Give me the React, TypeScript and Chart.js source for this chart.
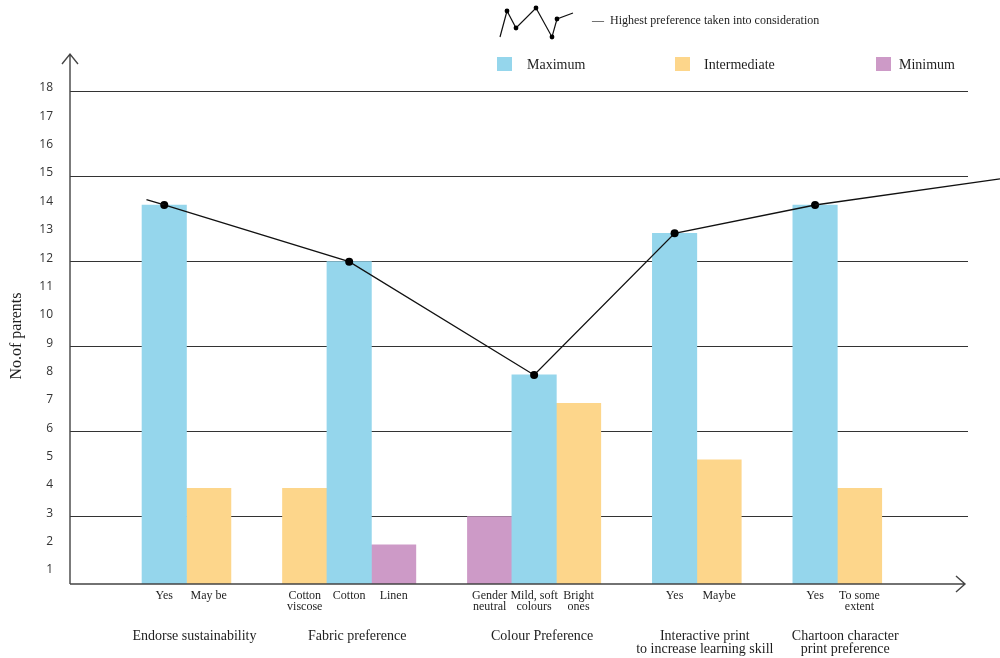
import React, { useEffect, useRef } from "react";
import { Chart, registerables } from "chart.js";

Chart.register(...registerables);

// ---------- data ----------
const groupNames: (string | string[])[] = [
  "Endorse sustainability",
  "Fabric preference",
  "Colour Preference",
  ["Interactive print", "to increase learning skill"],
  ["Chartoon character", "print preference"],
];
const barGroups = [0, 0, 1, 1, 1, 2, 2, 2, 3, 3, 4, 4];
const barLabels: (string | string[])[] = [
  "Yes",
  "May be",
  ["Cotton", "viscose"],
  "Cotton",
  "Linen",
  ["Gender", "neutral"],
  ["Mild, soft", "colours"],
  ["Bright", "ones"],
  "Yes",
  "Maybe",
  "Yes",
  ["To some", "extent"],
];
const barValues = [14, 4, 4, 12, 2, 3, 8, 7, 13, 5, 14, 4];
const barSeries = [
  "Maximum",
  "Intermediate",
  "Intermediate",
  "Maximum",
  "Minimum",
  "Minimum",
  "Maximum",
  "Intermediate",
  "Maximum",
  "Intermediate",
  "Maximum",
  "Intermediate",
];
const seriesNames = ["Maximum", "Intermediate", "Minimum"];
const lineLabel = "Highest preference taken into consideration";
const yTickValues = [1, 2, 3, 4, 5, 6, 7, 8, 9, 10, 11, 12, 13, 14, 15, 16, 17, 18];
const gridValues = [3, 6, 9, 12, 15, 18];
const yTitle = "No.of parents";

// ---------- style / layout ----------
const seriesColors = ["#95D6EC", "#FDD68B", "#CD9AC7"];
const SERIF = '"Liberation Serif", "Times New Roman", serif';
const SANS = '"Open Sans", "Noto Sans", sans-serif';
const LEAD = 1.62; // in bar widths
const GAP = 1.16; // in bar widths
const X_MAX = 20.2;
const GROUP_LABEL_SHIFT = 8;

const positions: number[] = [];
{
  let cursor = LEAD;
  barGroups.forEach((g, i) => {
    if (i > 0 && g !== barGroups[i - 1]) cursor += GAP;
    positions.push(cursor + 0.5);
    cursor += 1;
  });
}

const legendIcon = [
  [500, 37],
  [507, 11],
  [516, 28],
  [536, 8],
  [552, 37],
  [557, 19],
  [573, 13],
];
const legendBoxX = [497, 675, 876];
const legendTextX = [527, 704, 899];

const decorPlugin = {
  id: "decor",
  afterDatasetsDraw(chart: any) {
    const { ctx, chartArea, scales } = chart;
    const xs = scales.x;
    ctx.save();
    // line tails
    const meta = chart.getDatasetMeta(0);
    const pts = meta.data;
    if (pts.length >= 2) {
      const p0 = pts[0], p1 = pts[1];
      const s0 = (p1.y - p0.y) / (p1.x - p0.x);
      const firstIdx = barSeries.indexOf("Maximum");
      const sx = xs.getPixelForValue(positions[firstIdx] - 0.4);
      const sy = p0.y - s0 * (p0.x - sx);
      const pn = pts[pts.length - 1], pm = pts[pts.length - 2];
      const s1 = ((pn.y - pm.y) / (pn.x - pm.x)) * 0.7;
      const ex = chart.width;
      const ey = pn.y + s1 * (ex - pn.x);
      ctx.strokeStyle = "#111";
      ctx.lineWidth = 1.3;
      ctx.beginPath();
      ctx.moveTo(sx, sy);
      ctx.lineTo(p0.x, p0.y);
      ctx.moveTo(pn.x, pn.y);
      ctx.lineTo(ex, ey);
      ctx.stroke();
    }
    // axes with arrows
    const L = chartArea.left, B = chartArea.bottom;
    ctx.strokeStyle = "#444";
    ctx.lineWidth = 1.4;
    ctx.beginPath();
    ctx.moveTo(L, B);
    ctx.lineTo(L, 54);
    ctx.moveTo(L - 8, 64);
    ctx.lineTo(L, 54);
    ctx.lineTo(L + 8, 64);
    ctx.moveTo(L, B);
    ctx.lineTo(965, B);
    ctx.moveTo(956, B - 8);
    ctx.lineTo(965, B);
    ctx.lineTo(956, B + 8);
    ctx.stroke();
    ctx.restore();
  },
  afterDraw(chart: any) {
    const { ctx, chartArea, scales } = chart;
    const xs = scales.x;
    ctx.save();
    ctx.fillStyle = "#1e1e1e";
    ctx.textAlign = "center";
    ctx.textBaseline = "middle";
    ctx.font = `14px ${SERIF}`;
    groupNames.forEach((name, g) => {
      const idx = barGroups.map((v, i) => (v === g ? i : -1)).filter((i) => i >= 0);
      const cx =
        (xs.getPixelForValue(positions[idx[0]]) + xs.getPixelForValue(positions[idx[idx.length - 1]])) / 2 +
        GROUP_LABEL_SHIFT;
      const lines = Array.isArray(name) ? name : [name];
      lines.forEach((ln, k) => ctx.fillText(ln, cx, chartArea.bottom + 52 + k * 13));
    });
    // legend
    ctx.textAlign = "left";
    seriesNames.forEach((n, i) => {
      ctx.fillStyle = seriesColors[i];
      ctx.fillRect(legendBoxX[i], 57, 15, 14);
      ctx.fillStyle = "#1e1e1e";
      ctx.fillText(n, legendTextX[i], 65);
    });
    // line legend icon
    ctx.strokeStyle = "#111";
    ctx.lineWidth = 1.2;
    ctx.beginPath();
    legendIcon.forEach(([x, y], i) => (i === 0 ? ctx.moveTo(x, y) : ctx.lineTo(x, y)));
    ctx.stroke();
    ctx.fillStyle = "#000";
    legendIcon.slice(1, 6).forEach(([x, y]) => {
      ctx.beginPath();
      ctx.arc(x, y, 2.4, 0, Math.PI * 2);
      ctx.fill();
    });
    ctx.fillStyle = "#1e1e1e";
    ctx.font = `12px ${SERIF}`;
    ctx.fillText("\u2014  " + lineLabel, 592, 21);
    ctx.restore();
  },
};

export default function App() {
  const ref = useRef<HTMLCanvasElement | null>(null);
  useEffect(() => {
    if (!ref.current) return;
    const barDatasets = seriesNames.map((name, si) => ({
      type: "bar" as const,
      label: name,
      data: barValues
        .map((v, i) => (barSeries[i] === name ? { x: positions[i], y: v } : null))
        .filter((d) => d !== null),
      backgroundColor: seriesColors[si],
      borderWidth: 0,
      grouped: false,
      barPercentage: 1,
      categoryPercentage: 1,
      order: 1,
    }));
    const lineData = barValues
      .map((v, i) => (barSeries[i] === "Maximum" ? { x: positions[i], y: v } : null))
      .filter((d) => d !== null);
    const chart = new Chart(ref.current, {
      type: "bar",
      data: {
        datasets: [
          {
            type: "line" as const,
            label: lineLabel,
            data: lineData as any,
            borderColor: "#111",
            borderWidth: 1.3,
            pointRadius: 4,
            pointBackgroundColor: "#000",
            pointBorderWidth: 0,
            tension: 0,
            clip: false as any,
            order: 0,
          },
          ...(barDatasets as any),
        ],
      },
      options: {
        animation: false,
        responsive: false,
        events: [],
        layout: { padding: { top: 88, right: 32, bottom: 0, left: 0 } },
        plugins: { legend: { display: false }, tooltip: { enabled: false } },
        scales: {
          x: {
            type: "linear",
            min: 0,
            max: X_MAX,
            offset: false,
            afterBuildTicks: (s: any) => {
              s.ticks = positions.map((v) => ({ value: v }));
            },
            afterFit: (s: any) => {
              s.height = 74;
            },
            ticks: {
              autoSkip: false,
              maxRotation: 0,
              minRotation: 0,
              padding: 6,
              font: { family: SERIF, size: 12, lineHeight: 0.95 },
              color: "#1e1e1e",
              callback: (_v: any, i: number) => barLabels[i] as any,
            },
            grid: { display: false, drawTicks: false, offset: false },
            border: { display: false },
          },
          y: {
            type: "linear",
            position: "left",
            min: 0.62,
            max: 18.13,
            weight: 0,
            afterBuildTicks: (s: any) => {
              s.ticks = gridValues.map((v) => ({ value: v }));
            },
            afterFit: (s: any) => {
              s.width = 0;
            },
            ticks: { display: false },
            grid: { color: "#333", lineWidth: 1, drawTicks: false },
            border: { display: false },
          },
          yl: {
            type: "linear",
            position: "left",
            min: 0.506,
            max: 18,
            weight: 1,
            afterBuildTicks: (s: any) => {
              s.ticks = yTickValues.map((v) => ({ value: v }));
            },
            afterFit: (s: any) => {
              s.width = 70;
            },
            ticks: {
              font: { family: SANS, size: 12 },
              color: "#333",
              padding: 17,
              callback: (v: any) => String(v),
            },
            grid: { display: false, drawTicks: false },
            border: { display: false },
            title: {
              display: true,
              text: yTitle,
              font: { family: SERIF, size: 16 },
              color: "#1e1e1e",
              padding: { top: 7, bottom: 0 },
            },
          },
        },
      } as any,
      plugins: [decorPlugin],
    });
    return () => chart.destroy();
  }, []);
  return (
    <div style={{ position: "absolute", left: 0, top: 0, width: 1000, height: 658, background: "#fff" }}>
      <canvas ref={ref} width={1000} height={658} style={{ display: "block" }} />
    </div>
  );
}
